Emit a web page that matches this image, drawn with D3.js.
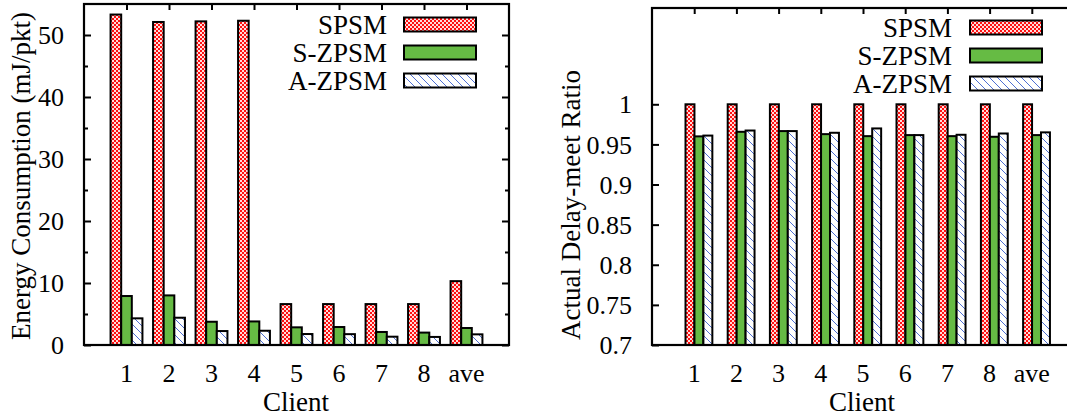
<!DOCTYPE html>
<html>
<head>
<meta charset="utf-8">
<script src="https://cdn.jsdelivr.net/npm/d3@7"></script>
<style>
  html, body { margin: 0; padding: 0; background: #fff; }
  svg { display: block; }
  text { font-family: "Liberation Serif", "Times New Roman", serif; fill: #000; }
</style>
</head>
<body>
<svg id="chart" width="1067" height="418"></svg>
<script>
// Clients on the x axis
const categories = ["1", "2", "3", "4", "5", "6", "7", "8", "ave"];
const seriesNames = ["SPSM", "S-ZPSM", "A-ZPSM"];

// Energy consumption per packet (mJ/pkt)
const energySPSM  = [53.3, 52.1, 52.2, 52.3, 6.6, 6.6, 6.6, 6.6, 10.3];
const energySZPSM = [7.9, 8.0, 3.75, 3.8, 2.85, 2.9, 2.1, 2.0, 2.74];
const energyAZPSM = [4.3, 4.4, 2.25, 2.3, 1.77, 1.75, 1.34, 1.3, 1.72];

// Actual delay-meet ratio
const ratioSPSM  = [1, 1, 1, 1, 1, 1, 1, 1, 1];
const ratioSZPSM = [0.960, 0.9657, 0.9666, 0.9628, 0.9603, 0.9616, 0.9603, 0.9595, 0.9616];
const ratioAZPSM = [0.961, 0.9673, 0.9666, 0.9645, 0.9699, 0.9616, 0.962, 0.9636, 0.965];

// Axis ticks
const energyTicks = [0, 10, 20, 30, 40, 50];
const energyMinorTicks = [5, 15, 25, 35, 45];
const ratioTicks = [0.7, 0.75, 0.8, 0.85, 0.9, 0.95, 1];

const svg = d3.select("#chart");
const defs = svg.append("defs");

// Red checkered fill
const chk = defs.append("pattern").attr("id", "patSPSM")
  .attr("patternUnits", "userSpaceOnUse").attr("width", 4).attr("height", 4);
chk.append("rect").attr("width", 4).attr("height", 4).attr("fill", "#ff1010");
chk.append("rect").attr("x", 0).attr("y", 0).attr("width", 2).attr("height", 2).attr("fill", "#fff").attr("opacity", 0.85);
chk.append("rect").attr("x", 2).attr("y", 2).attr("width", 2).attr("height", 2).attr("fill", "#fff").attr("opacity", 0.85);

// Blue back-slash hatch on white
const hatch = defs.append("pattern").attr("id", "patAZPSM")
  .attr("patternUnits", "userSpaceOnUse").attr("width", 8).attr("height", 8);
hatch.append("rect").attr("width", 8).attr("height", 8).attr("fill", "#fff");
hatch.append("path").attr("d", "M-1,-1 L9,9 M-1,7 L1,9 M7,-1 L9,1")
  .attr("stroke", "#3a5fcd").attr("stroke-width", 0.9).attr("fill", "none");

const fills = ["url(#patSPSM)", "#66bb44", "url(#patAZPSM)"];

function drawPanel(cfg) {
  const g = svg.append("g");
  const x = d3.scaleLinear().domain([0, 10]).range([cfg.left, cfg.right]);
  const y = d3.scaleLinear().domain(cfg.yDomain).range([cfg.bottom, cfg.top]);
  const idx = categories.map((c, i) => i + 1);

  // Y ticks (inward, mirrored on the right edge)
  const yAxisL = d3.axisRight(y).tickValues(cfg.yTicks).tickSize(7).tickFormat("");
  const yAxisR = d3.axisLeft(y).tickValues(cfg.yTicks).tickSize(7).tickFormat("");
  g.append("g").attr("transform", `translate(${cfg.left},0)`).call(yAxisL);
  g.append("g").attr("transform", `translate(${cfg.right},0)`).call(yAxisR);
  if (cfg.yMinor) {
    g.append("g").attr("transform", `translate(${cfg.left},0)`)
      .call(d3.axisRight(y).tickValues(cfg.yMinor).tickSize(4).tickFormat(""));
    g.append("g").attr("transform", `translate(${cfg.right},0)`)
      .call(d3.axisLeft(y).tickValues(cfg.yMinor).tickSize(4).tickFormat(""));
  }
  // X ticks (inward, top and bottom)
  g.append("g").attr("transform", `translate(0,${cfg.top})`)
    .call(d3.axisBottom(x).tickValues(idx).tickSize(6).tickFormat(""));
  g.append("g").attr("transform", `translate(0,${cfg.bottom})`)
    .call(d3.axisTop(x).tickValues(idx).tickSize(6).tickFormat(""));
  g.selectAll(".domain").remove();
  g.selectAll(".tick line").attr("stroke", "#000").attr("stroke-width", 2);

  // Bars
  const bw = x(cfg.barWidth) - x(0);
  cfg.series.forEach((vals, s) => {
    g.append("g").selectAll("rect").data(vals).join("rect")
      .attr("x", (d, i) => x(i + 1 + cfg.offsets[s]) - bw / 2)
      .attr("width", bw)
      .attr("y", d => y(d))
      .attr("height", d => y(cfg.yDomain[0]) - y(d))
      .attr("fill", fills[s])
      .attr("stroke", "#000").attr("stroke-width", 2);
  });

  // Frame
  g.append("rect").attr("x", cfg.left).attr("y", cfg.top)
    .attr("width", cfg.right - cfg.left).attr("height", cfg.bottom - cfg.top)
    .attr("fill", "none").attr("stroke", "#000").attr("stroke-width", 2.2);

  // Tick labels
  g.append("g").selectAll("text").data(cfg.yTicks).join("text")
    .attr("x", cfg.left - 20).attr("y", d => y(d)).attr("dy", "0.35em")
    .attr("text-anchor", "end").attr("font-size", 26)
    .text(d => cfg.yFormat(d));
  g.append("g").selectAll("text").data(categories).join("text")
    .attr("x", (d, i) => x(i + 1)).attr("y", 382)
    .attr("text-anchor", "middle").attr("font-size", 26)
    .text(d => d);

  // Axis titles
  g.append("text").attr("x", cfg.xTitleX).attr("y", 411)
    .attr("text-anchor", "middle").attr("font-size", 27).text("Client");
  g.append("text")
    .attr("transform", `translate(${cfg.yTitleX},${cfg.yTitleY}) rotate(-90)`)
    .attr("text-anchor", "middle").attr("font-size", 27).text(cfg.yTitle);

  // Legend
  seriesNames.forEach((name, s) => {
    const cy = cfg.legendY + s * 28;
    g.append("text").attr("x", cfg.legendTextX).attr("y", cy).attr("dy", "0.35em")
      .attr("text-anchor", "end").attr("font-size", 27).text(name);
    g.append("rect").attr("x", cfg.legendBoxX).attr("y", cy - 7)
      .attr("width", 72).attr("height", 14)
      .attr("fill", fills[s]).attr("stroke", "#000").attr("stroke-width", 2);
  });
}

drawPanel({
  left: 84, right: 509, top: 4, bottom: 345,
  yDomain: [0, 55], yTicks: energyTicks, yMinor: energyMinorTicks,
  yFormat: d3.format("d"),
  series: [energySPSM, energySZPSM, energyAZPSM],
  barWidth: 0.25, offsets: [-0.25, 0, 0.25],
  yTitle: "Energy Consumption (mJ/pkt)", yTitleX: 30, yTitleY: 176,
  xTitleX: 296,
  legendTextX: 387, legendBoxX: 404, legendY: 24.5
});

drawPanel({
  left: 652, right: 1074, top: 8, bottom: 345,
  yDomain: [0.7, 1.12], yTicks: ratioTicks, yMinor: null,
  yFormat: d => d === 1 ? "1" : d3.format("")(d),
  series: [ratioSPSM, ratioSZPSM, ratioAZPSM],
  barWidth: 0.212, offsets: [-0.1, 0.112, 0.324],
  yTitle: "Actual Delay-meet Ratio", yTitleX: 580, yTitleY: 205,
  xTitleX: 862,
  legendTextX: 952, legendBoxX: 970, legendY: 27.5
});
</script>
</body>
</html>
